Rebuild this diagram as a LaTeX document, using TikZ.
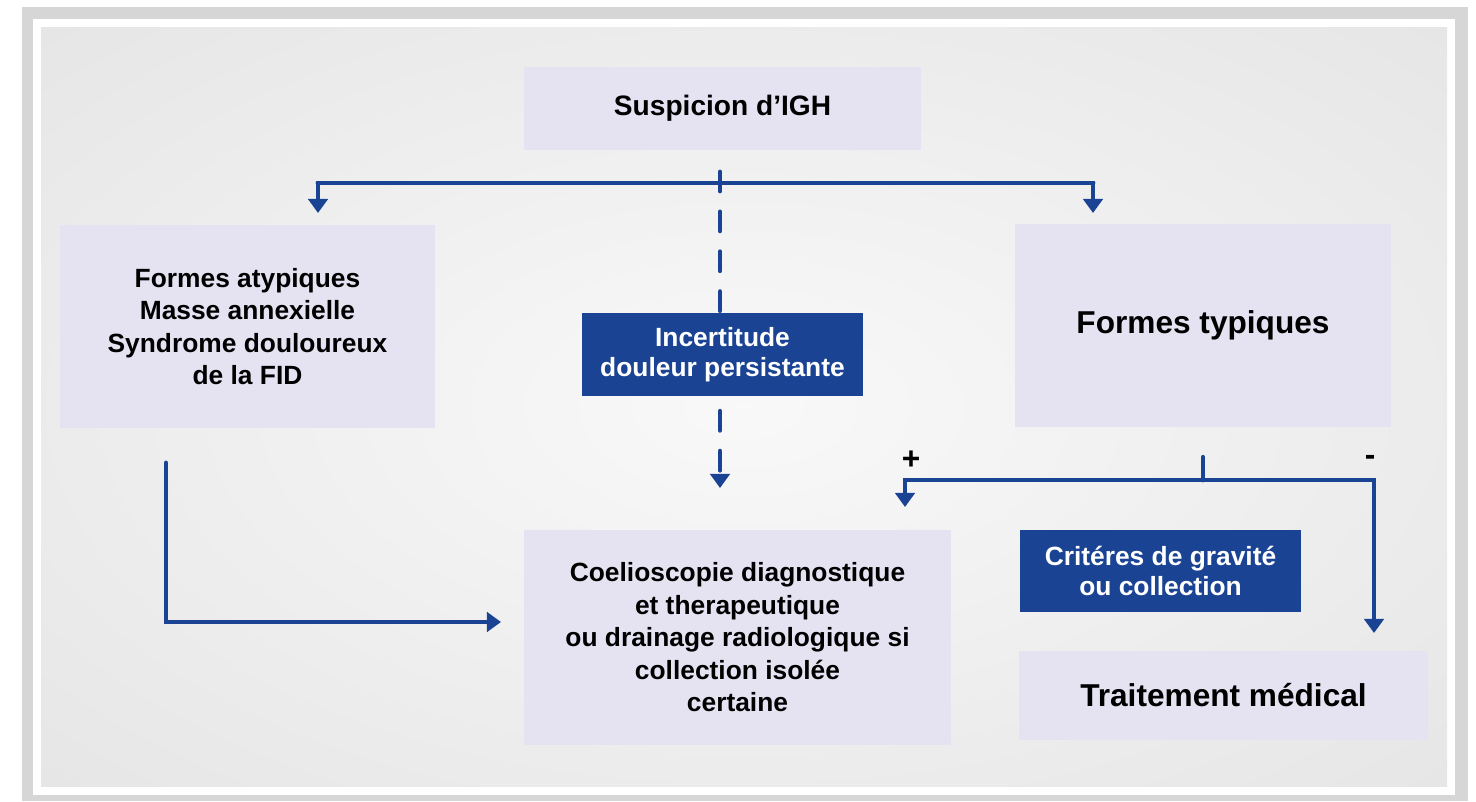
\documentclass[tikz,border=0pt]{standalone}
\usepackage{fontspec}
\setmainfont{Liberation Sans}
\usepackage{xcolor}
\usepackage{tikz}
\usetikzlibrary{calc,positioning,arrows.meta}

\definecolor{lavbox}{HTML}{E5E3F2}
\definecolor{navy}{HTML}{1B4394}
\definecolor{framegrey}{HTML}{D6D6D6}
\pgfdeclareradialshading{glow}{\pgfpoint{0bp}{0bp}}{rgb(0bp)=(0.975,0.975,0.975); rgb(70bp)=(0.83,0.83,0.83)}

\begin{document}
\begin{tikzpicture}[x=0.02cm, y=-0.02cm,
  box/.style={fill=lavbox, align=center, inner sep=0pt, font=\bfseries\fontsize{15}{18.5}\selectfont},
  flag/.style={fill=navy, text=white, align=center, inner sep=0pt, font=\bfseries\fontsize{15}{17}\selectfont},
  link/.style={navy, line width=2.8pt, line cap=round},
  flow/.style={link, -{Triangle[width=11pt,length=8pt]}},
  sign/.style={font=\bfseries\fontsize{18}{18}\selectfont, inner sep=0pt}]
  \useasboundingbox (0,0) rectangle (1476,801);
  % --- frame ---
  \fill[framegrey] (22,7) rectangle (1468,801);
  \fill[white] (33,19) rectangle (1455,795);
  \shade[shading=glow] (41,27) rectangle (1447,786);
  % --- boxes ---
  \node[box, minimum width=7.94cm, minimum height=1.66cm, font=\bfseries\fontsize{16}{19}\selectfont] (igh) at (722.5,108.5) {Suspicion d’IGH};
  \node[box, minimum width=7.5cm, minimum height=4.06cm] (atyp) at (247.5,326.5)
    {Formes atypiques\\Masse annexielle\\Syndrome douloureux\\de la FID};
  \node[box, minimum width=7.52cm, minimum height=4.06cm, font=\bfseries\fontsize{18}{21}\selectfont] (typ) at (1203,325.5) {Formes typiques};
  \node[box, minimum width=8.54cm, minimum height=4.3cm] (coelio) at (737.5,637.5)
    {Coelioscopie diagnostique\\et therapeutique\\ou drainage radiologique si\\collection isolée\\certaine};
  \node[box, minimum width=8.18cm, minimum height=1.78cm, font=\bfseries\fontsize{18}{21}\selectfont] (trait) at (1223.5,695.5) {Traitement médical};
  \node[flag, minimum width=5.62cm, minimum height=1.64cm] (crit) at (1160.5,571) {Critéres de gravité\\ou collection};
  % --- first split ---
  \coordinate (barL) at (318,183);
  \coordinate (barR) at (1093,183);
  \draw[flow] (barR) -- (barL) -- ++(0,30);
  \draw[flow] (barL) -- (barR) -- ++(0,30);
  % --- second split ---
  \coordinate (fork) at (1203,480);
  \draw[link] ($(typ.south)+(0,30)$) -- (fork);
  \draw[flow] (fork) -| (905,507);
  \draw[flow] (fork) -| (1374,633);
  \node[sign] (plus) at (911,460) {+};
  \node[sign] (minus) at (1370,460) {-};
  % --- atypical path ---
  \coordinate (atypout) at (166,463);
  \draw[flow] (atypout) |- (501,622);
  % --- uncertain path ---
  \draw[flow, dash pattern=on 10.8pt off 11.9pt] (720,172) -- (720,488);
  \node[flag, minimum width=5.62cm, minimum height=1.66cm] (incert) at (722.5,354.5) {Incertitude\\douleur persistante};
\end{tikzpicture}
\end{document}
